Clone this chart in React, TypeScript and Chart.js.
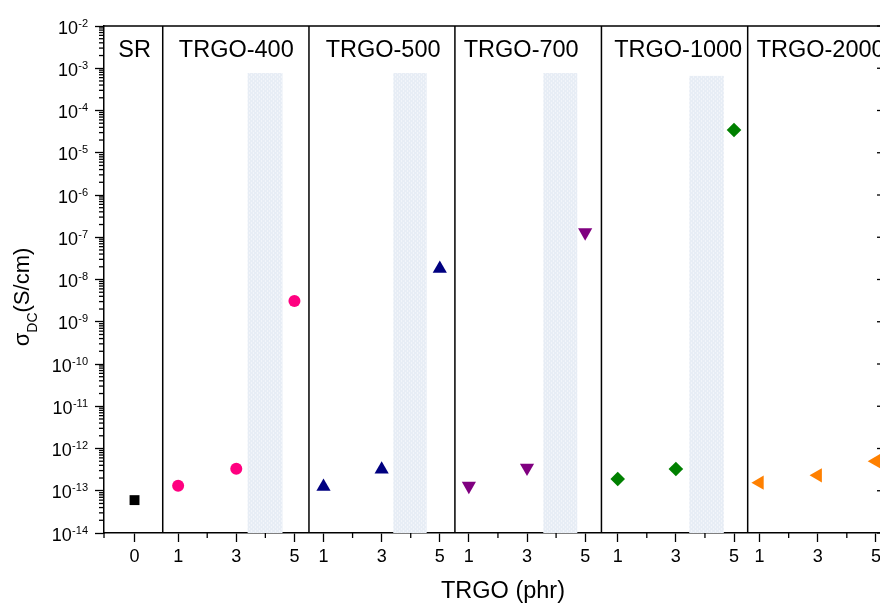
import React, { useEffect, useRef } from 'react';
import { Chart, registerables } from 'chart.js';

Chart.register(...registerables);

const FONT = '"Liberation Sans", Arial, Helvetica, sans-serif';

// ---- data ----
const groupNames = ['SR', 'TRGO-400', 'TRGO-500', 'TRGO-700', 'TRGO-1000', 'TRGO-2000'];
const groupLabelX = [-0.5, 3.0, 8.05, 12.8, 18.2, 23.1];

const srX = [-0.5];
const srY = [6.0e-14];
const trgo400X = [1, 3, 5];
const trgo400Y = [1.32e-13, 3.33e-13, 3.1e-9];
const trgo500X = [6, 8, 10];
const trgo500Y = [1.25e-13, 3.2e-13, 1.81e-8];
const trgo700X = [11, 13, 15];
const trgo700Y = [1.3e-13, 3.5e-13, 1.3e-7];
const trgo1000X = [16.12, 18.12, 20.12];
const trgo1000Y = [1.9e-13, 3.27e-13, 3.45e-5];
const trgo2000X = [21, 23, 25];
const trgo2000Y = [1.55e-13, 2.32e-13, 5.0e-13];

const separators = [0.47, 5.5, 10.52, 15.56, 20.59];

const bandStart = [3.39, 8.4, 13.56, 18.58];
const bandEnd = [4.59, 9.55, 14.73, 19.77];
const bandTop = [7.7e-4, 7.7e-4, 7.7e-4, 6.6e-4];

const xMin = -1.55;
const xMax = 25.21;
const xMajorTicks = [-0.5, 1, 3, 5, 6, 8, 10, 11, 13, 15, 16.12, 18.12, 20.12, 21, 23, 25];
const xTickLabels = ['0', '1', '3', '5', '1', '3', '5', '1', '3', '5', '1', '3', '5', '1', '3', '5'];
const xMinorTicks = [-1.55, 2, 4, 7, 9, 12, 14, 17.12, 19.12, 22, 24];

const yMin = 1e-14;
const yMax = 1e-2;
const yDecades = [1e-14, 1e-13, 1e-12, 1e-11, 1e-10, 1e-9, 1e-8, 1e-7, 1e-6, 1e-5, 1e-4, 1e-3, 1e-2];
const yTickExponents = ['-14', '-13', '-12', '-11', '-10', '-9', '-8', '-7', '-6', '-5', '-4', '-3', '-2'];

const xTitle = 'TRGO (phr)';
const yTitleMain = 'σ';
const yTitleSub = 'DC';
const yTitleUnit = '(S/cm)';

const colors = ['#000000', '#FF0080', '#000080', '#800080', '#008000', '#FF8000'];

function pts(xs: number[], ys: number[]) {
  return xs.map((x, i) => ({ x, y: ys[i] }));
}

export default function App() {
  const ref = useRef<HTMLCanvasElement>(null);

  useEffect(() => {
    const canvas = ref.current!;
    const c0 = canvas.getContext('2d')!;
    const tile = document.createElement('canvas');
    tile.width = 4;
    tile.height = 4;
    const tctx = tile.getContext('2d')!;
    tctx.fillStyle = '#e7edf5';
    tctx.fillRect(0, 0, 4, 4);
    tctx.fillStyle = '#f2f5fa';
    tctx.fillRect(1, 0, 1, 2);
    tctx.fillRect(3, 2, 1, 2);
    const pattern = c0.createPattern(tile, 'repeat');

    const deco = {
      id: 'deco',
      beforeDatasetsDraw(chart: any) {
        const { ctx, chartArea } = chart;
        const x = chart.scales.x;
        const y = chart.scales.y;
        ctx.save();
        ctx.fillStyle = pattern || '#e9eff7';
        for (let i = 0; i < bandStart.length; i++) {
          const x1 = x.getPixelForValue(bandStart[i]);
          const x2 = x.getPixelForValue(bandEnd[i]);
          const y1 = y.getPixelForValue(bandTop[i]);
          const y2 = y.getPixelForValue(yMin);
          ctx.fillRect(x1, y1, x2 - x1, y2 - y1);
        }
        ctx.strokeStyle = '#000';
        ctx.lineWidth = 1.5;
        for (const s of separators) {
          const px = x.getPixelForValue(s);
          ctx.beginPath();
          ctx.moveTo(px, chartArea.top);
          ctx.lineTo(px, chartArea.bottom);
          ctx.stroke();
        }
        ctx.restore();
      },
      afterDraw(chart: any) {
        const { ctx, chartArea } = chart;
        const x = chart.scales.x;
        const y = chart.scales.y;
        const L = chartArea.left, R = chartArea.right, T = chartArea.top, B = chartArea.bottom;
        ctx.save();
        ctx.strokeStyle = '#000';
        ctx.fillStyle = '#000';
        // frame top & right
        ctx.lineWidth = 1.5;
        ctx.beginPath();
        ctx.moveTo(L, T);
        ctx.lineTo(R, T);
        ctx.lineTo(R, B);
        ctx.stroke();
        // right inward ticks
        ctx.lineWidth = 1.3;
        for (const v of yDecades) {
          const py = y.getPixelForValue(v);
          ctx.beginPath();
          ctx.moveTo(R - 5, py);
          ctx.lineTo(R, py);
          ctx.stroke();
        }
        // minor y ticks
        for (let i = 0; i < yDecades.length - 1; i++) {
          for (let d = 2; d <= 9; d++) {
            const py = y.getPixelForValue(yDecades[i] * d);
            ctx.beginPath();
            ctx.moveTo(L - 5, py);
            ctx.lineTo(L, py);
            ctx.stroke();
          }
        }
        // minor x ticks
        for (const v of xMinorTicks) {
          const px = x.getPixelForValue(v);
          ctx.beginPath();
          ctx.moveTo(px, B);
          ctx.lineTo(px, B + 5);
          ctx.stroke();
        }
        // y tick labels with superscript
        ctx.textBaseline = 'alphabetic';
        yDecades.forEach((v, i) => {
          const py = y.getPixelForValue(v);
          ctx.font = `11px ${FONT}`;
          const ew = ctx.measureText(yTickExponents[i]).width;
          ctx.textAlign = 'left';
          ctx.fillText(yTickExponents[i], 88 - ew, py + 0.5);
          ctx.font = `18px ${FONT}`;
          ctx.textAlign = 'right';
          ctx.fillText('10', 88 - ew - 0.3, py + 7.5);
        });
        // y title
        ctx.font = `22px ${FONT}`;
        const w1 = ctx.measureText(yTitleMain).width;
        const w3 = ctx.measureText(yTitleUnit).width;
        ctx.font = `14px ${FONT}`;
        const w2 = ctx.measureText(yTitleSub).width;
        const total = w1 + w2 + w3;
        ctx.save();
        ctx.translate(29, 297);
        ctx.rotate(-Math.PI / 2);
        ctx.textAlign = 'left';
        let sx = -total / 2;
        ctx.font = `22px ${FONT}`;
        ctx.fillText(yTitleMain, sx, 0);
        sx += w1;
        ctx.font = `14px ${FONT}`;
        ctx.fillText(yTitleSub, sx, 8);
        sx += w2;
        ctx.font = `22px ${FONT}`;
        ctx.fillText(yTitleUnit, sx, 0);
        ctx.restore();
        // x title
        ctx.font = `23.5px ${FONT}`;
        ctx.textAlign = 'center';
        ctx.fillText(xTitle, 503, 598);
        // panel labels
        groupNames.forEach((name, i) => {
          ctx.fillText(name, x.getPixelForValue(groupLabelX[i]), T + 30.5);
        });
        ctx.restore();
      },
    };

    const mk = (label: string, xs: number[], ys: number[], color: string, style: string, radius: number, rotation = 0) => ({
      label,
      data: pts(xs, ys),
      pointStyle: style,
      pointRadius: radius,
      pointHoverRadius: radius,
      pointRotation: rotation,
      backgroundColor: color,
      borderColor: color,
      pointBorderWidth: 0,
      borderWidth: 0,
      showLine: false,
    });

    const chart = new Chart(canvas, {
      type: 'scatter',
      data: {
        datasets: [
          mk(groupNames[0], srX, srY, colors[0], 'rect', 7),
          mk(groupNames[1], trgo400X, trgo400Y, colors[1], 'circle', 6),
          mk(groupNames[2], trgo500X, trgo500Y, colors[2], 'triangle', 8.2),
          mk(groupNames[3], trgo700X, trgo700Y, colors[3], 'triangle', 8.2, 180),
          mk(groupNames[4], trgo1000X, trgo1000Y, colors[4], 'rectRot', 7.3),
          mk(groupNames[5], trgo2000X, trgo2000Y, colors[5], 'triangle', 8.2, 270),
        ] as any,
      },
      options: {
        animation: false,
        responsive: false,
        maintainAspectRatio: false,
        devicePixelRatio: 1,
        layout: { padding: { top: 26, right: 18, left: 0, bottom: 0 } },
        plugins: { legend: { display: false }, tooltip: { enabled: false } },
        scales: {
          x: {
            type: 'linear',
            min: xMin,
            max: xMax,
            afterFit: (s: any) => { s.height = 71; },
            afterBuildTicks: (s: any) => { s.ticks = xMajorTicks.map((v) => ({ value: v })); },
            ticks: {
              autoSkip: false,
              maxRotation: 0,
              minRotation: 0,
              padding: 4,
              color: '#000',
              font: { family: FONT, size: 18 },
              callback: (_v: any, i: number) => xTickLabels[i],
            },
            grid: { display: true, drawOnChartArea: false, drawTicks: true, tickLength: 9, tickColor: '#000', tickWidth: 1.3 },
            border: { display: true, color: '#000', width: 1.5 },
          },
          y: {
            type: 'logarithmic',
            min: yMin,
            max: yMax,
            afterFit: (s: any) => { s.width = 104; },
            afterBuildTicks: (s: any) => { s.ticks = yDecades.map((v) => ({ value: v, major: true })); },
            ticks: { display: false },
            grid: { display: true, drawOnChartArea: false, drawTicks: true, tickLength: 9, tickColor: '#000', tickWidth: 1.3 },
            border: { display: true, color: '#000', width: 1.5 },
          },
        },
      } as any,
      plugins: [deco],
    });
    return () => chart.destroy();
  }, []);

  return (
    <div style={{ position: 'fixed', left: 0, top: 0, width: 880, height: 604, overflow: 'hidden', background: '#fff' }}>
      <canvas ref={ref} width={900} height={604} style={{ display: 'block', width: 900, height: 604 }} />
    </div>
  );
}
